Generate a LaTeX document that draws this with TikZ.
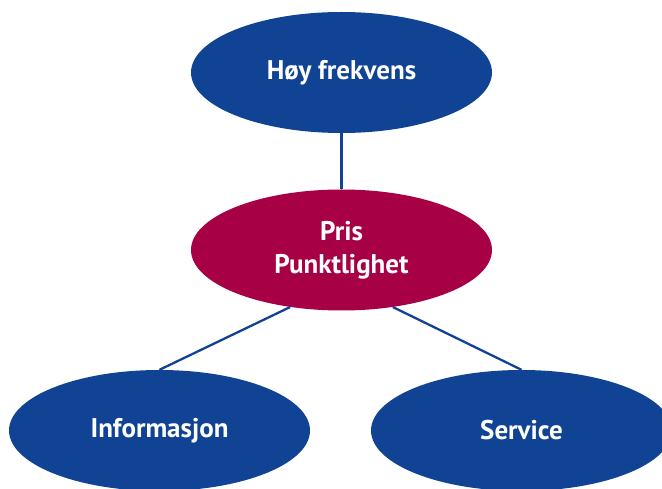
\documentclass[tikz,border=0pt]{standalone}
\usepackage{fontspec}
\setmainfont{PT Sans}
\usetikzlibrary{shapes.geometric}
\definecolor{nodeblue}{RGB}{17,67,148}
\definecolor{nodered}{RGB}{168,0,68}
\tikzset{
  oval/.style={ellipse, minimum width=301pt, minimum height=121pt, inner sep=0pt,
    text=white, font=\fontsize{27}{33}\selectfont\bfseries, align=center},
  blueoval/.style={oval, fill=nodeblue},
  redoval/.style={oval, fill=nodered},
  link/.style={draw=nodeblue, line width=2.3pt}
}
\begin{document}
\begin{tikzpicture}[x=1pt,y=-1pt]
\useasboundingbox (0,0) rectangle (662,489);
\node[blueoval] (top) at (341.5,72.5) {Høy frekvens};
\node[redoval] (mid) at (341.5,250) {Pris\\Punktlighet};
\node[blueoval] (left) at (159.5,430.5) {Informasjon};
\node[blueoval] (right) at (521.5,430.5) {Service};
\draw[link] (top.south) -- (mid.north);
\draw[link] (mid.228) -- (left.north);
\draw[link] (mid.312) -- (right.north);
\end{tikzpicture}
\end{document}
